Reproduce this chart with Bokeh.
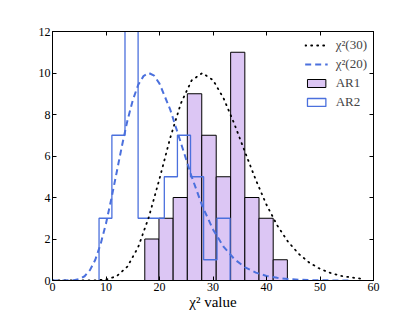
import numpy as np
from bokeh.plotting import figure
from bokeh.models import Range1d, LinearAxis, FixedTicker, Legend, LegendItem
from bokeh.embed import file_html
from bokeh.resources import INLINE

# ---- data ----
ar1_edges = [17.25, 19.9, 22.55, 25.2, 27.9, 30.6, 33.3, 35.95, 38.6, 41.25, 43.9]
ar1_counts = [2, 3, 4, 9, 7, 5, 11, 4, 3, 1]

ar2_edges = [8.7, 11.1, 13.55, 16.0, 18.45, 20.9, 23.35, 25.8, 28.25, 30.75, 33.2]
ar2_counts = [3, 7, 13, 3, 3, 5, 7, 5, 1, 3]

chi30_x = [0, 4, 8, 10, 12, 14, 16, 18, 20, 22, 24, 26, 28, 30, 32, 34, 36, 38, 40,
           42, 44, 46, 48, 50, 52, 54, 56, 58]
chi30_y = [0.0, 0.0, 0.005, 0.044, 0.21, 0.67, 1.6, 3.05, 4.9, 6.87, 8.54, 9.64, 10.0,
           9.66, 8.77, 7.54, 6.18, 4.85, 3.65, 2.66, 1.88, 1.29, 0.86, 0.56, 0.36,
           0.22, 0.14, 0.08]

chi20_x = [0, 2, 4, 5, 6, 7, 8, 9, 10, 11, 12, 13, 14, 15, 16, 17, 18, 19, 20, 22,
           24, 26, 28, 30, 32, 34, 36, 38, 40, 42, 44, 46, 48, 50, 52, 54, 56]
chi20_y = [0.0, 0.0, 0.014, 0.065, 0.205, 0.5, 1.0, 1.76, 2.75, 3.94, 5.22, 6.51, 7.7,
           8.68, 9.42, 9.85, 10.0, 9.87, 9.49, 8.24, 6.63, 5.01, 3.59, 2.46, 1.62,
           1.03, 0.63, 0.38, 0.22, 0.13, 0.07, 0.04, 0.02, 0.01, 0.005, 0.0, 0.0]

x_ticks = [0, 10, 20, 30, 40, 50, 60]
y_ticks = [0, 2, 4, 6, 8, 10, 12]

FONT = "Liberation Serif"
PURPLE = "#dcc6f4"
BLUE = "#4b70dd"

p = figure(width=399, height=312, output_backend="svg", toolbar_location=None,
           x_range=Range1d(0, 60), y_range=Range1d(0, 12),
           min_border_left=52, min_border_right=26, min_border_top=31, min_border_bottom=32)
p.xgrid.visible = False
p.ygrid.visible = False
p.outline_line_color = "black"
p.outline_line_width = 1
p.background_fill_color = "white"
p.border_fill_color = "white"

# histograms
e1 = np.array(ar1_edges)
r_ar1 = p.quad(left=e1[:-1], right=e1[1:], bottom=0, top=ar1_counts,
               fill_color=PURPLE, line_color="black", line_width=1)

e2 = np.array(ar2_edges)
c2 = np.array(ar2_counts, dtype=float)
sx = np.repeat(e2, 2)
sy = np.concatenate([[0.0], np.repeat(c2, 2), [0.0]])
p.line(sx, sy, line_color=BLUE, line_width=1.3)
# legend proxy for AR2 (outside the visible range)
r_ar2 = p.quad(left=[-20], right=[-19], bottom=[0], top=[1],
               fill_color=None, line_color=BLUE, line_width=1.3)

# curves
r30 = p.line(chi30_x, chi30_y, line_color="black", line_width=1.8,
             line_dash="1 5", line_cap="round")
r20 = p.line(chi20_x, chi20_y, line_color=BLUE, line_width=2, line_dash="6 4")

# axes styling
def style_axis(ax, ticks, show_labels):
    ax.ticker = FixedTicker(ticks=ticks)
    ax.minor_tick_line_color = None
    ax.major_tick_in = 4
    ax.major_tick_out = 0
    ax.axis_line_color = "black"
    ax.major_tick_line_color = "black"
    ax.major_label_text_font = FONT
    ax.major_label_text_font_size = "12px"
    ax.major_label_text_color = "black"
    ax.major_label_standoff = 2
    if not show_labels:
        ax.major_label_text_font_size = "0px"
        ax.major_label_text_alpha = 0

style_axis(p.xaxis[0], x_ticks, True)
style_axis(p.yaxis[0], y_ticks, True)
p.xaxis[0].axis_label = "χ² value"
p.xaxis[0].axis_label_text_font = FONT
p.xaxis[0].axis_label_text_font_style = "normal"
p.xaxis[0].axis_label_text_font_size = "15px"
p.xaxis[0].axis_label_standoff = 0
p.xaxis[0].axis_label_text_color = "black"

top_ax = LinearAxis()
style_axis(top_ax, x_ticks, False)
p.add_layout(top_ax, "above")
right_ax = LinearAxis()
style_axis(right_ax, y_ticks, False)
p.add_layout(right_ax, "right")

legend = Legend(items=[
    LegendItem(label="χ²(30)", renderers=[r30]),
    LegendItem(label="χ²(20)", renderers=[r20]),
    LegendItem(label="AR1", renderers=[r_ar1]),
    LegendItem(label="AR2", renderers=[r_ar2]),
], location="top_right")
legend.border_line_color = None
legend.background_fill_alpha = 0
legend.label_text_font = FONT
legend.label_text_font_size = "13px"
legend.glyph_width = 23
legend.glyph_height = 10
legend.label_height = 14
legend.spacing = 3
legend.label_standoff = 8
legend.margin = 6
legend.padding = 8
p.add_layout(legend)

open("out.html", "w").write(file_html(p, INLINE))
